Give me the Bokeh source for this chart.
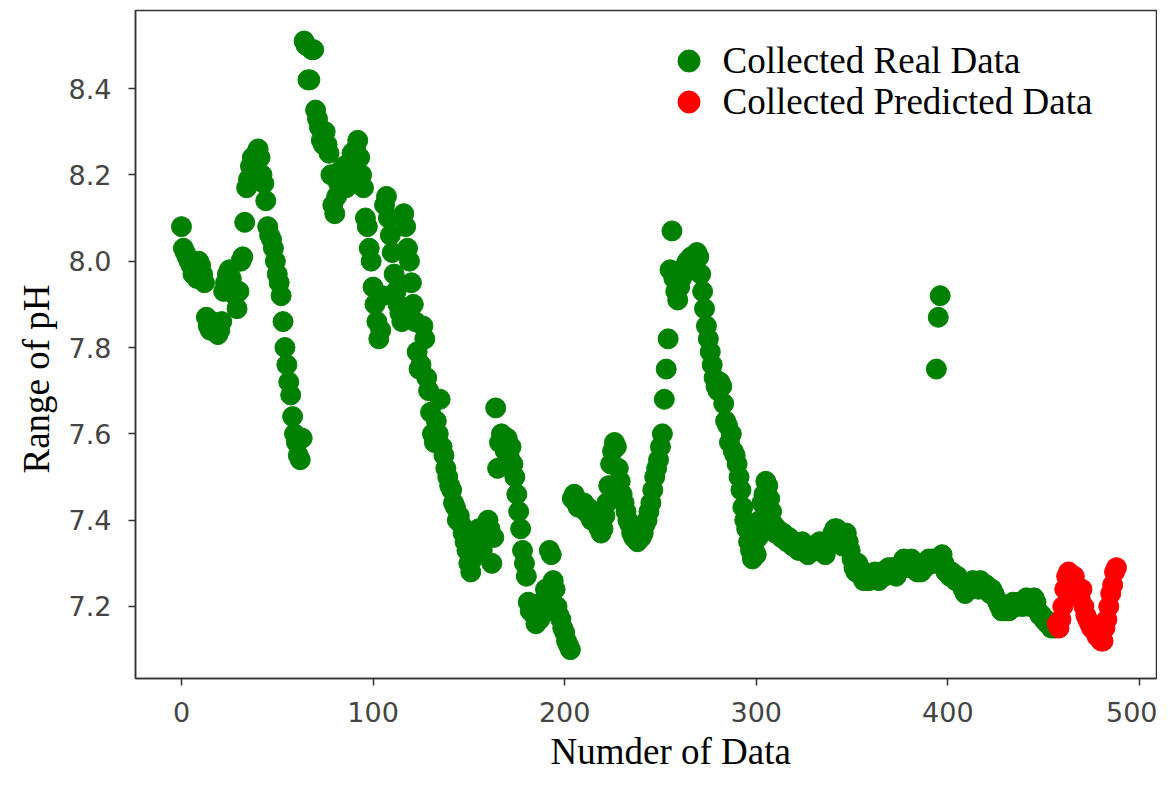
from bokeh.plotting import figure
from bokeh.models import Range1d, Legend, LegendItem, FixedTicker, PrintfTickFormatter, Title
from bokeh.embed import file_html
from bokeh.resources import INLINE

# ---- data ----
real_ph = [
    8.08, 8.03, 8.02, 8.01, 8.00, 7.99, 7.97, 7.98, 7.96, 8.00,
    7.99, 7.97, 7.95, 7.87, 7.85, 7.84, 7.86, 7.85, 7.84, 7.83,
    7.84, 7.86, 7.93, 7.95, 7.97, 7.98, 7.96, 7.94, 7.92, 7.89,
    7.93, 8.00, 8.01, 8.09, 8.17, 8.19, 8.22, 8.24, 8.21, 8.25,
    8.26, 8.24, 8.20, 8.18, 8.14, 8.08, 8.06, 8.05, 8.03, 8.00,
    7.97, 7.95, 7.92, 7.86, 7.80, 7.76, 7.72, 7.69, 7.64, 7.60,
    7.58, 7.55, 7.54, 7.59, 8.51, 8.50, 8.42, 8.42, 8.49, 8.49,
    8.35, 8.33, 8.31, 8.28, 8.27, 8.30, 8.27, 8.25, 8.20, 8.13,
    8.11, 8.15, 8.18, 8.21, 8.19, 8.22, 8.17, 8.20, 8.23, 8.25,
    8.21, 8.26, 8.28, 8.24, 8.20, 8.17, 8.10, 8.08, 8.03, 8.00,
    7.94, 7.90, 7.86, 7.82, 7.84, 7.92, 8.13, 8.15, 8.10, 8.06,
    8.02, 7.97, 7.93, 7.90, 7.88, 7.86, 8.11, 8.08, 8.03, 8.00,
    7.95, 7.90, 7.86, 7.79, 7.75, 7.76, 7.85, 7.82, 7.73, 7.70,
    7.65, 7.60, 7.58, 7.63, 7.60, 7.68, 7.57, 7.55, 7.52, 7.50,
    7.48, 7.47, 7.44, 7.43, 7.40, 7.41, 7.39, 7.37, 7.35, 7.33,
    7.30, 7.28, 7.31, 7.34, 7.36, 7.38, 7.35, 7.33, 7.37, 7.39,
    7.40, 7.38, 7.30, 7.36, 7.66, 7.52, 7.58, 7.60, 7.58, 7.56,
    7.59, 7.55, 7.57, 7.53, 7.50, 7.46, 7.42, 7.38, 7.33, 7.30,
    7.27, 7.21, 7.19, 7.20, 7.18, 7.16, 7.19, 7.17, 7.21, 7.20,
    7.24, 7.22, 7.33, 7.32, 7.26, 7.24, 7.20, 7.18, 7.17, 7.15,
    7.14, 7.12, 7.11, 7.10, 7.45, 7.46, 7.44, 7.43, 7.43, 7.44,
    7.44, 7.42, 7.43, 7.41, 7.40, 7.42, 7.40, 7.39, 7.38, 7.37,
    7.38, 7.41, 7.44, 7.48, 7.53, 7.56, 7.58, 7.57, 7.52, 7.49,
    7.46, 7.44, 7.42, 7.40, 7.39, 7.37, 7.36, 7.36, 7.35, 7.37,
    7.36, 7.37, 7.39, 7.40, 7.42, 7.44, 7.47, 7.50, 7.52, 7.54,
    7.57, 7.60, 7.68, 7.75, 7.82, 7.98, 8.07, 7.96, 7.93, 7.91,
    7.94, 7.96, 7.97, 7.99, 8.00, 7.98, 8.01, 7.99, 8.00, 8.02,
    8.01, 7.97, 7.93, 7.89, 7.85, 7.82, 7.79, 7.76, 7.73, 7.71,
    7.70, 7.72, 7.71, 7.67, 7.63, 7.62, 7.58, 7.60, 7.56, 7.55,
    7.53, 7.50, 7.47, 7.43, 7.40, 7.38, 7.35, 7.33, 7.31, 7.33,
    7.32, 7.36, 7.40, 7.44, 7.46, 7.49, 7.48, 7.45, 7.42, 7.39,
    7.37, 7.38, 7.37, 7.36, 7.37, 7.36, 7.35, 7.36, 7.35, 7.34,
    7.35, 7.34, 7.33, 7.34, 7.35, 7.33, 7.34, 7.32, 7.33, 7.34,
    7.33, 7.34, 7.33, 7.35, 7.34, 7.33, 7.32, 7.34, 7.35, 7.36,
    7.37, 7.38, 7.38, 7.37, 7.36, 7.34, 7.36, 7.37, 7.35, 7.33,
    7.31, 7.29, 7.28, 7.30, 7.29, 7.27, 7.26, 7.27, 7.26, 7.26,
    7.27, 7.27, 7.28, 7.27, 7.26, 7.28, 7.28, 7.27, 7.28, 7.29,
    7.28, 7.29, 7.28, 7.27, 7.28, 7.29, 7.30, 7.31, 7.30, 7.29,
    7.30, 7.31, 7.30, 7.29, 7.28, 7.29, 7.28, 7.30, 7.29, 7.30,
    7.31, 7.30, 7.31, 7.30, 7.75, 7.87, 7.92, 7.32, 7.30, 7.28,
    7.28, 7.27, 7.28, 7.27, 7.26, 7.27, 7.26, 7.25, 7.24, 7.23,
    7.24, 7.25, 7.24, 7.26, 7.25, 7.25, 7.24, 7.26, 7.25, 7.24,
    7.25, 7.24, 7.23, 7.24, 7.23, 7.22, 7.21, 7.20, 7.19, 7.20,
    7.19, 7.20, 7.19, 7.20, 7.21, 7.20, 7.20, 7.21, 7.21, 7.20,
    7.21, 7.22, 7.21, 7.20, 7.21, 7.22, 7.21, 7.19, 7.18, 7.18,
    7.17, 7.17, 7.16, 7.16, 7.15, 7.16, 7.15,
]

pred_ph = [
    7.16, 7.15, 7.17, 7.20, 7.24, 7.27, 7.28, 7.27, 7.26, 7.27,
    7.25, 7.23, 7.22, 7.24, 7.20, 7.18, 7.17, 7.16, 7.15, 7.15,
    7.14, 7.13, 7.13, 7.12, 7.12, 7.15, 7.17, 7.20, 7.23, 7.25,
    7.28, 7.29,
]

real_idx = list(range(len(real_ph)))
pred_idx = list(range(len(real_ph), len(real_ph) + len(pred_ph)))

x_ticks = [0, 100, 200, 300, 400, 500]
y_ticks = [7.2, 7.4, 7.6, 7.8, 8.0, 8.2, 8.4]

labels = ["Collected Real Data", "Collected Predicted Data"]
x_label = "Numder of Data"
y_label = "Range of pH"

SERIF = "Liberation Serif"

# ---- figure ----
p = figure(width=1157, height=776, output_backend="svg", toolbar_location=None,
           x_range=Range1d(-24.0, 508.9), y_range=Range1d(7.0332, 8.5807),
           min_border_left=135, min_border_right=1, min_border_top=10,
           min_border_bottom=98)
p.background_fill_color = "white"
p.border_fill_color = "white"
p.grid.visible = False
p.outline_line_color = "#333333"
p.outline_line_width = 1.5

r_real = p.scatter(real_idx, real_ph, size=20, color="#008000", line_color="#008000")
r_pred = p.scatter(pred_idx, pred_ph, size=20, color="#ff0000", line_color="#ff0000")

for ax in (p.xaxis[0], p.yaxis[0]):
    ax.axis_line_color = "#333333"
    ax.axis_line_width = 1.5
    ax.major_tick_line_color = "#333333"
    ax.major_tick_line_width = 1.5
    ax.major_tick_out = 7
    ax.major_tick_in = 0
    ax.minor_tick_line_color = None
    ax.major_label_text_font = "DejaVu Sans"
    ax.major_label_text_font_size = "27px"
    ax.major_label_text_color = "#444444"

p.xaxis[0].ticker = FixedTicker(ticks=x_ticks)
p.yaxis[0].ticker = FixedTicker(ticks=y_ticks)
p.yaxis[0].formatter = PrintfTickFormatter(format="%.1f")
p.xaxis[0].major_label_standoff = 16
p.yaxis[0].major_label_standoff = 17

# axis titles (offset like the reference)
xt = Title(text=x_label, align="left", offset=415, standoff=8,
           text_font=SERIF, text_font_size="37px", text_font_style="normal",
           text_color="#000000")
p.add_layout(xt, "below")
yt = Title(text=y_label, align="left", offset=205, standoff=14,
           vertical_align="top",
           text_font=SERIF, text_font_size="37px", text_font_style="normal",
           text_color="#000000")
p.add_layout(yt, "left")

# legend, one row each so that rows can be spaced like the reference
FH = 668  # frame height
def make_legend(item, top_y):
    lg = Legend(items=[item], location=(525.5, FH - (top_y - 10) - 55))
    lg.glyph_width = 55
    lg.glyph_height = 55
    lg.label_height = 55
    lg.padding = 0
    lg.margin = 0
    lg.label_standoff = 7
    lg.border_line_color = None
    lg.background_fill_alpha = 0
    lg.label_text_font = SERIF
    lg.label_text_font_size = "37px"
    lg.label_text_color = "#000000"
    return lg

p.add_layout(make_legend(LegendItem(label=labels[0], renderers=[r_real]), 32.5), "center")
p.add_layout(make_legend(LegendItem(label=labels[1], renderers=[r_pred]), 73.5), "center")

open("out.html", "w").write(file_html(p, INLINE))
